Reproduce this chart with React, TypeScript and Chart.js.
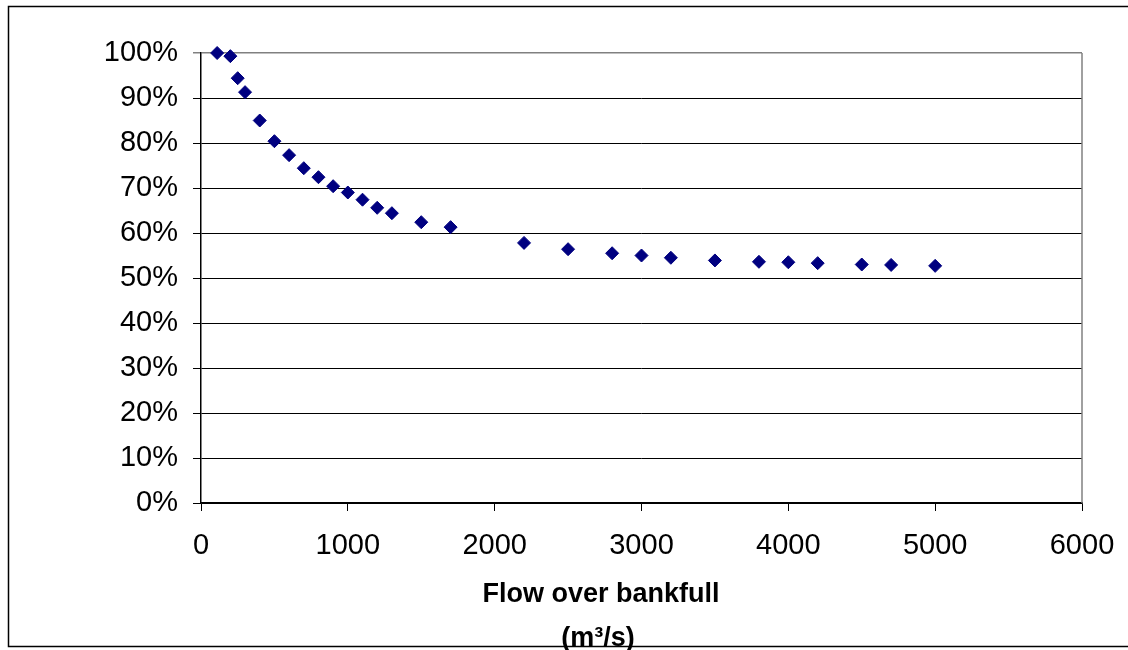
import React, { useEffect, useRef } from "react";
import { Chart, registerables } from "chart.js";

Chart.register(...registerables);

// Flow over bankfull (m³/s)
const flowValues = [
  110, 200, 250, 300, 400, 500, 600, 700, 800, 900, 1000, 1100, 1200, 1300,
  1500, 1700, 2200, 2500, 2800, 3000, 3200, 3500, 3800, 4000, 4200, 4500,
  4700, 5000,
];
// Share (fraction, shown as %)
const shareValues = [
  1.0, 0.993, 0.944, 0.913, 0.85, 0.804, 0.773, 0.744, 0.724, 0.704, 0.69,
  0.674, 0.656, 0.644, 0.624, 0.613, 0.578, 0.564, 0.555, 0.55, 0.545, 0.539,
  0.536, 0.535, 0.533, 0.53, 0.529, 0.527,
];
const xTitleLines = ["Flow over bankfull", "(m³/s)"];
const xMin = 0;
const xMax = 6000;
const xStep = 1000;
const yMin = 0;
const yMax = 1;
const yStep = 0.1;

const FONT = "'Liberation Sans', Arial, sans-serif";

const framePlugin = {
  id: "framePlugin",
  beforeDraw(chart: any) {
    const ctx = chart.ctx;
    ctx.save();
    ctx.fillStyle = "#ffffff";
    ctx.fillRect(0, 0, chart.width, chart.height);
    ctx.restore();
  },
  afterDraw(chart: any) {
    const ctx = chart.ctx;
    const a = chart.chartArea;
    ctx.save();
    // outer chart frame
    ctx.strokeStyle = "#000000";
    ctx.lineWidth = 1.5;
    ctx.strokeRect(8.5, 6.5, 1300, 640);
    // plot area right border
    ctx.strokeStyle = "#808080";
    ctx.lineWidth = 1.5;
    ctx.beginPath();
    ctx.moveTo(a.right, a.top);
    ctx.lineTo(a.right, a.bottom);
    ctx.stroke();
    // x axis title
    ctx.fillStyle = "#000000";
    ctx.font = `bold 27px ${FONT}`;
    ctx.textAlign = "center";
    ctx.textBaseline = "alphabetic";
    ctx.fillText(xTitleLines[0], 601, 602);
    ctx.fillText(xTitleLines[1], 598, 646);
    ctx.restore();
  },
};

export default function App() {
  const ref = useRef<HTMLCanvasElement | null>(null);

  useEffect(() => {
    if (!ref.current) return;
    const points = flowValues.map((x, i) => ({ x, y: shareValues[i] }));
    const chart = new Chart(ref.current, {
      type: "scatter",
      data: {
        datasets: [
          {
            data: points,
            pointStyle: "rectRot",
            pointRadius: 6.5,
            pointBackgroundColor: "#000080",
            pointBorderColor: "#000080",
            pointBorderWidth: 1,
            showLine: false,
            clip: false as any,
          },
        ],
      },
      options: {
        responsive: false,
        animation: false,
        layout: { padding: { left: 0, top: 53, right: 46, bottom: 0 } },
        plugins: {
          legend: { display: false },
          tooltip: { enabled: false },
          title: { display: false },
        },
        scales: {
          x: {
            type: "linear",
            min: xMin,
            max: xMax,
            afterFit(scale: any) {
              scale.height = 147;
              scale.paddingLeft = 0;
              scale.paddingRight = 0;
            },
            ticks: {
              stepSize: xStep,
              color: "#000000",
              font: { family: FONT, size: 29 },
              padding: 18,
              maxRotation: 0,
              callback: (v: any) => String(v),
            },
            grid: {
              drawOnChartArea: false,
              drawTicks: true,
              tickLength: 8,
              color: "#000000",
              lineWidth: 1,
            },
            border: { display: true, color: "#000000", width: 1.5 },
          },
          y: {
            type: "linear",
            min: yMin,
            max: yMax,
            afterFit(scale: any) {
              scale.width = 201;
              scale.paddingTop = 0;
              scale.paddingBottom = 0;
            },
            ticks: {
              stepSize: yStep,
              color: "#000000",
              font: { family: FONT, size: 29 },
              padding: 15,
              callback: (v: any) => Math.round(Number(v) * 100) + "%",
            },
            grid: {
              drawTicks: true,
              tickLength: 8,
              color: (c: any) =>
                c.tick && Math.abs(c.tick.value - yMax) < 1e-9 ? "#808080" : "#000000",
              lineWidth: (c: any) =>
                c.tick && Math.abs(c.tick.value - yMax) < 1e-9 ? 1.5 : 1,
            },
            border: { display: true, color: "#000000", width: 1.5 },
          },
        },
      },
      plugins: [framePlugin],
    });
    return () => chart.destroy();
  }, []);

  return (
    <div
      style={{
        position: "fixed",
        left: 0,
        top: 0,
        width: 1128,
        height: 650,
        overflow: "hidden",
        background: "#ffffff",
      }}
    >
      <canvas
        ref={ref}
        width={1128}
        height={650}
        style={{ display: "block", width: 1128, height: 650 }}
      />
    </div>
  );
}
